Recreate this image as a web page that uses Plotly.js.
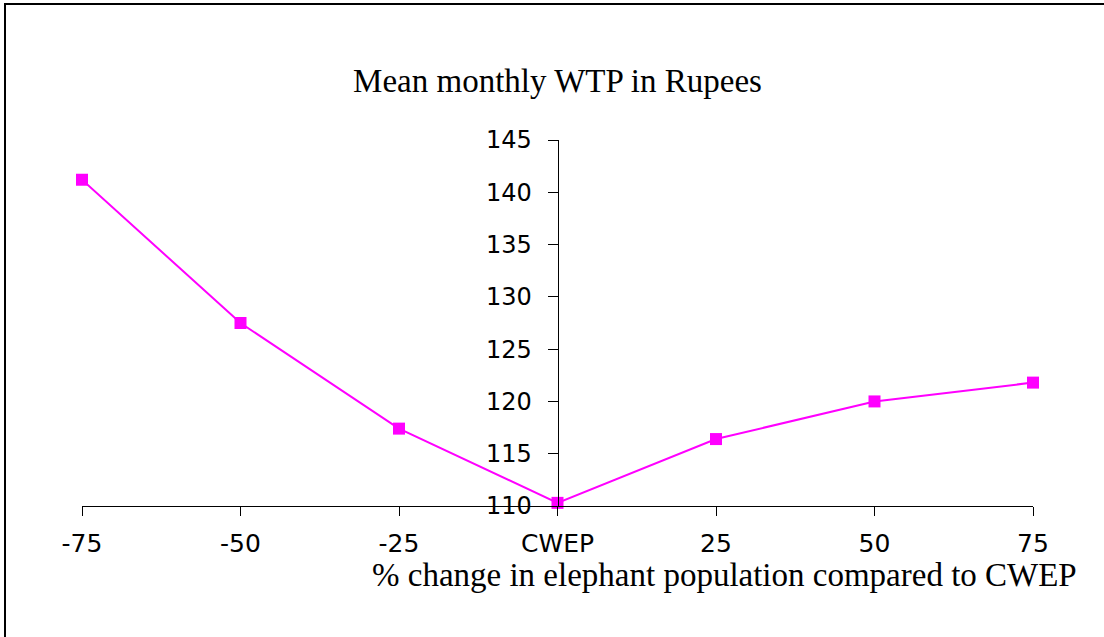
<!DOCTYPE html>
<html>
<head>
<meta charset="utf-8">
<script src="https://cdn.plot.ly/plotly-3.0.1.min.js"></script>
<style>html,body{margin:0;padding:0;background:#fff;}#chart{width:1104px;height:637px;}</style>
</head>
<body>
<div id="chart"></div>
<script>
const categories = ["-75", "-50", "-25", "CWEP", "25", "50", "75"];
const wtp = [141.2, 127.5, 117.4, 110.3, 116.4, 120.0, 121.8];
const yTicks = [110, 115, 120, 125, 130, 135, 140, 145];
const chartTitle = "Mean monthly WTP in Rupees";
const xTitle = "% change in elephant population compared to CWEP";

const trace = {
  x: categories,
  y: wtp,
  type: "scatter",
  mode: "lines+markers",
  line: {color: "#FF00FF", width: 2},
  marker: {symbol: "square", size: 12, color: "#FF00FF"},
  cliponaxis: false,
  hoverinfo: "x+y"
};

const layout = {
  width: 1104,
  height: 637,
  margin: {l: 82, r: 71, t: 140, b: 131},
  paper_bgcolor: "#fff",
  plot_bgcolor: "#fff",
  showlegend: false,
  title: {
    text: chartTitle,
    font: {family: "Liberation Serif, Times New Roman, serif", size: 33, color: "#000"},
    x: 0.5, xref: "paper", xanchor: "center",
    y: 1 - 80 / 637, yref: "container", yanchor: "middle"
  },
  xaxis: {
    type: "category",
    categoryorder: "array",
    categoryarray: categories,
    range: [0, 6],
    showgrid: false,
    zeroline: false,
    showline: true,
    linecolor: "#000",
    linewidth: 1,
    ticks: "outside",
    ticklen: 9,
    tickcolor: "#000",
    tickwidth: 1,
    ticklabelstandoff: 6,
    tickfont: {family: "DejaVu Sans, Arial, sans-serif", size: 25, color: "#000"}
  },
  yaxis: {
    range: [110, 145],
    tickvals: yTicks,
    anchor: "free",
    position: 0.5,
    showgrid: false,
    zeroline: false,
    showline: true,
    linecolor: "#000",
    linewidth: 1,
    ticks: "outside",
    ticklen: 10,
    tickcolor: "#000",
    tickwidth: 1,
    ticklabelstandoff: 11,
    tickfont: {family: "DejaVu Sans, Arial, sans-serif", size: 24, color: "#000"}
  },
  annotations: [{
    text: xTitle,
    xref: "paper", yref: "paper",
    x: (724 - 82) / 951, y: (505.7 - 575) / 365.7,
    xanchor: "center", yanchor: "middle",
    showarrow: false,
    font: {family: "Liberation Serif, Times New Roman, serif", size: 33, color: "#000"}
  }],
  shapes: [{
    type: "rect",
    xref: "paper", yref: "paper",
    x0: (5 - 82) / 951, x1: 1.2,
    y0: -0.5, y1: (505.7 - 4) / 365.7,
    line: {color: "#000", width: 2},
    fillcolor: "rgba(0,0,0,0)",
    layer: "below"
  }]
};

Plotly.newPlot("chart", [trace], layout, {displayModeBar: false});
</script>
</body>
</html>
